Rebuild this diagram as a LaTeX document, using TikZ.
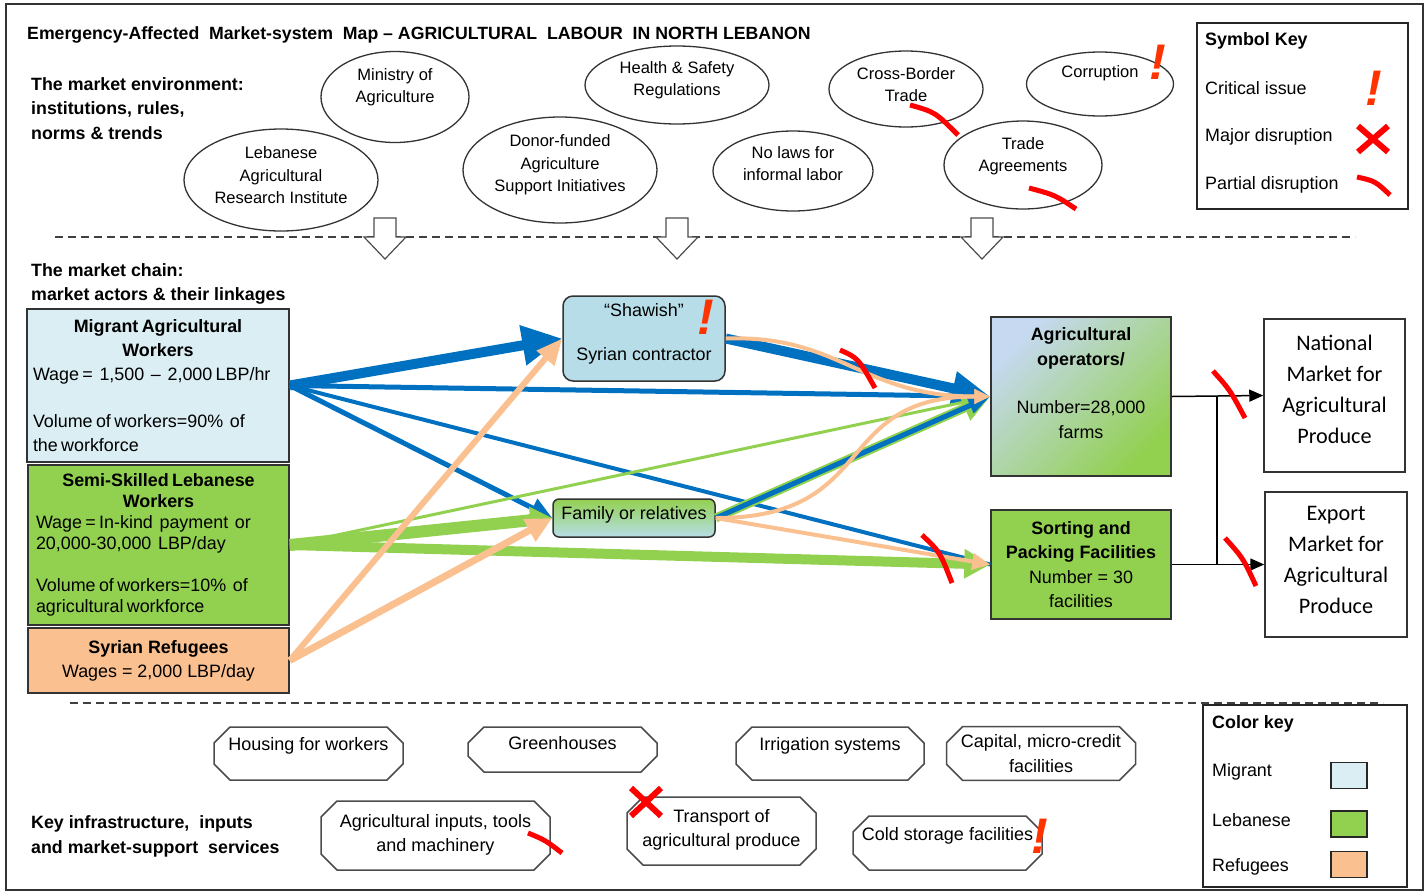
\documentclass[tikz,border=0pt]{standalone}
\usepackage{fontspec}
\setmainfont{Liberation Sans}
\newfontfamily\mktfont{Carlito}
\usetikzlibrary{arrows.meta, shapes.geometric, shapes.misc}

\definecolor{migblue}{HTML}{0070C0}
\definecolor{lebgreen}{HTML}{92D050}
\definecolor{refpeach}{HTML}{FAC090}
\definecolor{migfill}{HTML}{DAEEF3}
\definecolor{shawfill}{HTML}{B7DEE8}
\definecolor{opsblue}{HTML}{C6D9F1}
\definecolor{critred}{HTML}{FF3300}
\definecolor{disred}{HTML}{FF0000}

\newcommand{\txtbody}{\fontsize{17.9}{23.8}\selectfont}
\newcommand{\txtleb}{\fontsize{17.9}{21}\selectfont}
\newcommand{\txtops}{\fontsize{17.9}{24.3}\selectfont}
\newcommand{\txtell}{\fontsize{16.5}{22.5}\selectfont}
\newcommand{\txtsec}{\fontsize{17.8}{24.5}\selectfont\bfseries}
\newcommand{\txttitle}{\fontsize{17.7}{20}\selectfont\bfseries}
\newcommand{\txtmkt}{\mktfont\fontsize{22.2}{31}\selectfont}
\newcommand{\txtinfra}{\fontsize{18}{24.5}\selectfont}

\tikzset{
  envell/.style={ellipse, draw=black!80, line width=1.3pt, inner sep=0pt, align=center, font=\txtell, text depth=#1},
  actor/.style={rectangle, draw=black!80, line width=1.5pt, inner sep=0pt},
  keybox/.style={rectangle, draw=black!85, line width=1.5pt, inner sep=0pt},
  infra/.style={chamfered rectangle, chamfered rectangle xsep=8pt, chamfered rectangle ysep=8pt, draw=black!70, line width=1.5pt, inner sep=0pt, align=center, font=\txtinfra, text depth=#1},
  lbl/.style={anchor=west, inner sep=0pt, align=left, font=\txtbody},
  critmark/.style={inner sep=0pt, text=critred, font=\fontsize{50}{50}\selectfont\bfseries\itshape},
  partial/.style={draw=disred, line width=5pt},
  major/.style={draw=disred, line width=6pt},
  swatch/.style={rectangle, draw=black!85, line width=1.5pt, minimum width=36pt, minimum height=26pt}
}

\begin{document}
\begin{tikzpicture}[x=1pt, y=-1pt]
  \useasboundingbox (0,0) rectangle (1426,892);
  \draw[black!80, line width=1.5pt] (6,4) rectangle (1423,890);

  % section labels
  \node (title) at (27,35) [lbl, font=\txttitle] {Emergency-Affected\ \ Market-system\ \ Map – AGRICULTURAL\ \ LABOUR\ \ IN NORTH LEBANON};
  \node (env-lbl) at (31,108.5) [lbl, font=\txtsec] {The market environment:\\institutions, rules,\\norms \& trends};
  \node (chain-lbl) at (31,284) [lbl, font=\txtsec] {The market chain:\\market actors \& their linkages};
  \node (infra-lbl) at (31,836.5) [lbl, font=\txtsec] {Key infrastructure,\ \ inputs\\and market-support\ \ services};

  % market environment
  \node (moa) at (395,97) [envell=22.5pt, minimum width=148pt, minimum height=91pt] {Ministry of\\Agriculture};
  \node (lari) at (281,180) [envell=9pt, minimum width=194pt, minimum height=102pt] {Lebanese\\Agricultural\\Research Institute};
  \node (hsr) at (677,85) [envell=12.5pt, minimum width=184pt, minimum height=78pt] {Health \& Safety\\Regulations};
  \node (donor) at (560,170) [envell=13pt, minimum width=194pt, minimum height=106pt] {Donor-funded\\Agriculture\\Support Initiatives};
  \node (nolaw) at (793,171) [envell=14.5pt, minimum width=160pt, minimum height=80pt] {No laws for\\informal labor};
  \node (xborder) at (906,89) [envell=8.5pt, minimum width=154pt, minimum height=76pt] {Cross-Border\\Trade};
  \node (corrupt) at (1100,84) [envell=24pt, minimum width=147pt, minimum height=64pt] {Corruption};
  \node (tradeag) at (1023,165) [envell=20.5pt, minimum width=158pt, minimum height=88pt] {Trade\\Agreements};

  % separators
  \draw[black!75, line width=2pt, dash pattern=on 8pt off 5pt] (55,237) -- (1355,237);
  \draw[black!75, line width=2pt, dash pattern=on 8pt off 5pt] (70,703) -- (1383,703);
  \foreach \cx in {385,677,982}
    \draw[black!70, line width=1.2pt, fill=white] (\cx-11,218) -- (\cx+11,218) -- (\cx+11,237) -- (\cx+21,237) -- (\cx,259) -- (\cx-21,237) -- (\cx-11,237) -- cycle;

  % market actors
  \node (mig) at (158,385.5) [actor, fill=migfill, minimum width=262pt, minimum height=153pt, text width=250pt] {\txtbody\centering\bfseries Migrant Agricultural\\Workers\par\raggedright\mdseries Wage =\ \ 1,500 \ – \ 2,000 LBP/hr\\ \mbox{}\\Volume of workers=90\%\ \ of\\the workforce\par};
  \node (leb) at (158.5,545) [actor, fill=lebgreen, minimum width=261pt, minimum height=160pt, text width=245pt] {\txtleb\centering\bfseries Semi-Skilled Lebanese\\Workers\par\raggedright\mdseries Wage = In-kind\ \ payment\ \ or\\20,000-30,000\ \ LBP/day\\ \mbox{}\\Volume of workers=10\%\ \ of\\agricultural workforce\par};
  \node (ref) at (158.5,660.5) [actor, fill=refpeach, minimum width=261pt, minimum height=65pt, align=center, font=\txtbody] {\textbf{Syrian Refugees}\\Wages = 2,000 LBP/day};
  \node (shaw) at (644,338.5) [actor, rounded corners=10pt, fill=shawfill, minimum width=162pt, minimum height=85pt, align=center, font=\fontsize{17.9}{22}\selectfont, text depth=12pt] {“Shawish”\\[22pt]Syrian contractor};
  \node (fam) at (634,518) [actor, rounded corners=6pt, top color=lebgreen, bottom color=shawfill, minimum width=162pt, minimum height=38pt, font=\txtbody, text depth=10pt] {Family or relatives};
  \node (agri) at (1081,396.5) [actor, top color=opsblue, middle color=lebgreen!80!opsblue, bottom color=lebgreen, shading angle=45, minimum width=180pt, minimum height=159pt, align=center, font=\txtops, text depth=27pt] {\textbf{Agricultural}\\\textbf{operators/}\\[24.3pt]Number=28,000\\farms};
  \node (sort) at (1081,564.5) [actor, fill=lebgreen, minimum width=180pt, minimum height=109pt, align=center, font=\txtops] {\textbf{Sorting and}\\\textbf{Packing Facilities}\\Number = 30\\facilities};
  \node (natmkt) at (1334.5,395.5) [actor, minimum width=141pt, minimum height=153pt, align=center, font=\txtmkt, text depth=12.5pt] {National\\Market for\\Agricultural\\Produce};
  \node (expmkt) at (1336,564.5) [actor, minimum width=142pt, minimum height=145pt, align=center, font=\txtmkt, text depth=8.5pt] {Export\\Market for\\Agricultural\\Produce};

  % migrant flows
  \draw[migblue, line width=5pt, -{Triangle[length=20pt,width=16pt]}] (mig.east) -- (agri.west);
  \draw[migblue, line width=4pt] (mig.east) -- (sort.west);
  \draw[migblue, line width=5pt, -{Triangle[length=22pt,width=20pt]}] (mig.east) -- (fam.west);
  \draw[migblue, line width=10pt, -{Triangle[length=40pt,width=38pt]}] (mig.east) -- (shaw.west);
  \draw[migblue, line width=10pt, -{Triangle[length=38pt,width=32pt]}] (shaw.east) -- (agri.west);
  % lebanese flows
  \draw[lebgreen, line width=3pt, -{Triangle[length=14pt,width=12pt]}] (leb.east) -- (agri.west);
  \draw[lebgreen, line width=10pt, -{Triangle[length=26pt,width=28pt]}] (leb.east) -- (sort.west);
  \draw[lebgreen, line width=12pt, -{Triangle[length=22pt,width=26pt]}] (leb.east) -- (fam.west);
  \draw[lebgreen, line width=9pt, -{Triangle[length=28pt,width=26pt]}] (fam.east) -- (agri.west);
  \draw[migblue, line width=5pt, -{Triangle[length=22pt,width=16pt]}] (fam.east) -- (agri.west);
  % refugee flows
  \draw[refpeach, line width=6pt, -{Triangle[length=26pt,width=22pt]}] (ref.east) -- (shaw.west);
  \draw[refpeach, line width=7pt, -{Triangle[length=26pt,width=24pt]}] (ref.east) -- (fam.west);
  \draw[refpeach, line width=4pt, -{Triangle[length=16pt,width=14pt]}] (shaw.east) .. controls +(115,-4) and +(-130,0) .. (agri.west);
  \draw[refpeach, line width=4pt, -{Triangle[length=16pt,width=14pt]}] (fam.east) .. controls +(165,0) and +(-160,0) .. (agri.west);
  \draw[refpeach, line width=4pt, -{Triangle[length=18pt,width=16pt]}] (fam.east) -- (sort.west);

  % to end markets
  \coordinate (jtop) at (1217,396.5);
  \coordinate (jbot) at (1217,564.5);
  \draw[line width=1.5pt, -{Triangle[length=14pt,width=12pt]}] (agri.east) -- (natmkt.west);
  \draw[line width=1.5pt, -{Triangle[length=14pt,width=12pt]}] (sort.east) -- (expmkt.west);
  \draw[line width=1.5pt] (jtop) -- (jbot);

  % infrastructure and services
  \node (housing) at (308.5,753.5) [infra=19pt, minimum width=189pt, minimum height=53pt] {Housing for workers};
  \node (greenh) at (562.5,749.5) [infra=13pt, minimum width=189pt, minimum height=45pt] {Greenhouses};
  \node (irrig) at (830,753.5) [infra=19pt, minimum width=188pt, minimum height=53pt] {Irrigation systems};
  \node (capital) at (1041,753.5) [infra=0pt, minimum width=189pt, minimum height=53pt] {Capital, micro-credit\\facilities};
  \node (aginputs) at (435.5,835.5) [infra=5.5pt, minimum width=229pt, minimum height=69pt] {Agricultural inputs, tools\\and machinery};
  \node (transport) at (721.5,831) [infra=6.5pt, minimum width=189pt, minimum height=68pt] {Transport of\\agricultural produce};
  \node (coldst) at (947.5,843) [infra=18pt, minimum width=189pt, minimum height=54pt] {Cold storage facilities};

  % symbol key
  \node (symkey) at (1302.5,116) [keybox, minimum width=211pt, minimum height=186pt] {};
  \node (symkey-t) at (1205,41) [lbl, font=\txtbody\bfseries] {Symbol Key};
  \node (crit-t) at (1205,88) [lbl] {Critical issue};
  \node (major-t) at (1205,137) [lbl] {Major disruption};
  \node (partial-t) at (1205,185) [lbl] {Partial disruption};
  \node (crit-k) at (1374,88) [critmark] {!};
  \draw[major] (1358,126) -- (1388,152) (1358,152) -- (1388,126);
  \draw[partial] (1357,177) .. controls (1375,181) .. (1390,195);

  % color key
  \node (colkey) at (1305,796) [keybox, minimum width=204pt, minimum height=182pt] {};
  \node (colkey-t) at (1212,724) [lbl, font=\txtbody\bfseries] {Color key};
  \node (mig-t) at (1212,772) [lbl] {Migrant};
  \node (leb-t) at (1212,820) [lbl] {Lebanese};
  \node (ref-t) at (1212,867) [lbl] {Refugees};
  \node (mig-sw) at (1349,775.5) [swatch, fill=migfill] {};
  \node (leb-sw) at (1349,824) [swatch, fill=lebgreen] {};
  \node (ref-sw) at (1349,864.5) [swatch, fill=refpeach] {};

  % critical issues and disruptions
  \node (crit-corrupt) at (1158,62) [critmark] {!};
  \node (crit-shaw) at (706,317) [critmark] {!};
  \node (crit-cold) at (1040,836) [critmark] {!};
  \draw[major] (631,788) -- (661,816) (631,816) -- (661,788);
  \draw[partial] (910,105) .. controls (935,112) .. (958,135);
  \draw[partial] (1029,188) .. controls (1055,195) .. (1076,209);
  \draw[partial] (840,350) .. controls (858,358) .. (875,388);
  \draw[partial] (922,535) .. controls (940,552) .. (952,583);
  \draw[partial] (1213,371) .. controls (1230,390) .. (1245,418);
  \draw[partial] (1225,538) .. controls (1243,558) .. (1256,586);
  \draw[partial] (528,833) .. controls (545,840) .. (562,853);
\end{tikzpicture}
\end{document}
